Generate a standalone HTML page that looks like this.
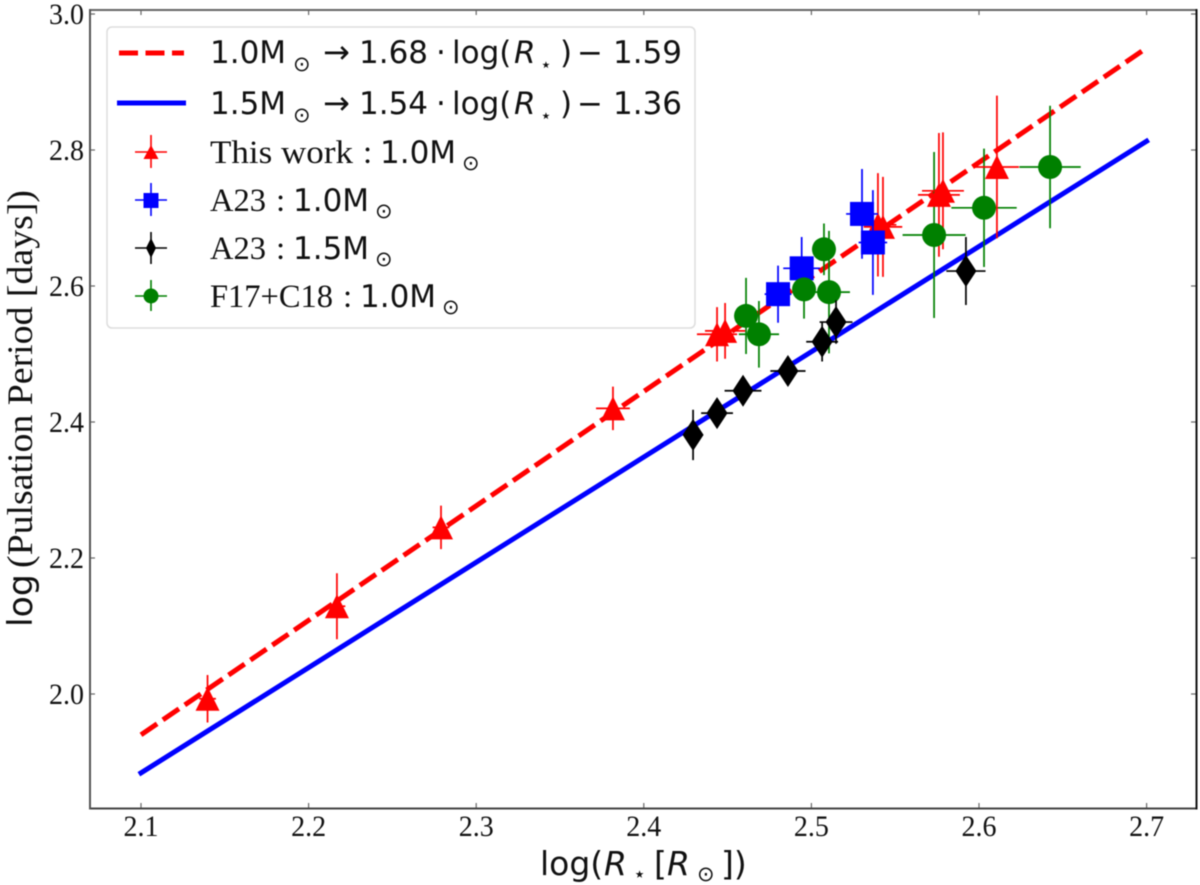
<!DOCTYPE html>
<html lang="en">
<head>
<meta charset="utf-8">
<title>Pulsation period vs stellar radius</title>
<style>
html,body{margin:0;padding:0;background:#fff;}
#chart{display:block;width:1200px;height:885px;filter:blur(0.55px);}
.serif{font-family:"Liberation Serif",serif;fill:#111;}
.sans{font-family:"DejaVu Sans",sans-serif;fill:#111;}
.ital{font-family:"DejaVu Sans",sans-serif;font-style:oblique;fill:#111;}
</style>
</head>
<body>
<svg id="chart" xmlns="http://www.w3.org/2000/svg" width="1200" height="885" viewBox="0 0 1200 885">
  <rect x="0" y="0" width="1200" height="885" fill="#fff"/>
  <g id="ticks"></g>
  <g id="marks"></g>
  <g>
    <line x1="90" y1="10" x2="1197" y2="10" stroke="#666" stroke-width="2"/>
    <line x1="90" y1="808.5" x2="1197" y2="808.5" stroke="#444" stroke-width="2"/>
    <line x1="90" y1="9" x2="90" y2="809.5" stroke="#555" stroke-width="2"/>
    <line x1="1196.5" y1="9" x2="1196.5" y2="809.5" stroke="#111" stroke-width="2"/>
  </g>

  <g>
    <text class="sans" transform="translate(32,627) rotate(-90)" font-size="34" textLength="53" lengthAdjust="spacingAndGlyphs">log</text>
    <text class="serif" transform="translate(32,568) rotate(-90)" font-size="36" textLength="378" lengthAdjust="spacingAndGlyphs">(Pulsation Period [days])</text>
  </g>

  <g>
    <text class="sans" x="540" y="875" font-size="33">log(</text>
    <text class="ital" x="604" y="875" font-size="33">R</text>
    <text class="sans" x="633" y="881" font-size="21">⋆</text>
    <text class="sans" x="654" y="875" font-size="33">[</text>
    <text class="ital" x="667" y="875" font-size="33">R</text>
    <text class="sans" x="697" y="881" font-size="21">⊙</text>
    <text class="sans" x="721" y="875" font-size="33">])</text>
  </g>

  <g>
    <rect x="107" y="27" width="588" height="301" rx="5" ry="5" fill="#fff" fill-opacity="0.9" stroke="#ddd" stroke-width="1.5"/>

    <g>
      <line x1="119" y1="53" x2="184" y2="53" stroke="#f00" stroke-width="5" stroke-dasharray="19 7.5"/>
      <text class="sans" y="63" font-size="31"><tspan x="210">1.0M</tspan><tspan x="293" y="71" font-size="21">⊙</tspan><tspan x="323" y="63" font-size="32">→</tspan><tspan x="359" y="63">1.68</tspan><tspan x="436" y="63">·</tspan><tspan x="452" y="63">log(</tspan><tspan x="514" y="63" font-style="oblique">R</tspan><tspan x="540" y="71" font-size="19">⋆</tspan><tspan x="560" y="63">)</tspan><tspan x="577" y="63">−</tspan><tspan x="613" y="63">1.59</tspan></text>
    </g>

    <g>
      <line x1="117" y1="103" x2="186" y2="103" stroke="#00f" stroke-width="5"/>
      <text class="sans" y="114" font-size="31"><tspan x="210">1.5M</tspan><tspan x="293" y="122" font-size="21">⊙</tspan><tspan x="323" y="114" font-size="32">→</tspan><tspan x="359" y="114">1.54</tspan><tspan x="436" y="114">·</tspan><tspan x="452" y="114">log(</tspan><tspan x="514" y="114" font-style="oblique">R</tspan><tspan x="540" y="122" font-size="19">⋆</tspan><tspan x="560" y="114">)</tspan><tspan x="577" y="114">−</tspan><tspan x="613" y="114">1.36</tspan></text>
    </g>

    <g>
      <path d="M135 152H167M151 135V168" stroke="#f00" stroke-width="1.6" fill="none"/>
      <polygon points="151,145 158.5,159 143.5,159" fill="#f00"/>
      <text class="serif" x="210" y="163" font-size="33" textLength="143" lengthAdjust="spacingAndGlyphs">This work</text>
      <text class="serif" x="363" y="163" font-size="33">:</text>
      <text class="sans" x="380" y="163" font-size="31">1.0M</text>
      <text class="sans" x="462" y="170" font-size="21">⊙</text>
    </g>

    <g>
      <path d="M135 200H167M151 183V216" stroke="#00f" stroke-width="1.6" fill="none"/>
      <rect x="143.5" y="193" width="15" height="15" fill="#00f"/>
      <text class="serif" x="210" y="211" font-size="33" textLength="56" lengthAdjust="spacingAndGlyphs">A23</text>
      <text class="serif" x="276" y="211" font-size="33">:</text>
      <text class="sans" x="293" y="211" font-size="31">1.0M</text>
      <text class="sans" x="375" y="218" font-size="21">⊙</text>
    </g>

    <g>
      <path d="M135 248H167M151 232V264" stroke="#000" stroke-width="1.6" fill="none"/>
      <polygon points="151,238 156,248 151,258 146,248" fill="#000"/>
      <text class="serif" x="210" y="259" font-size="33" textLength="56" lengthAdjust="spacingAndGlyphs">A23</text>
      <text class="serif" x="276" y="259" font-size="33">:</text>
      <text class="sans" x="293" y="259" font-size="31">1.5M</text>
      <text class="sans" x="375" y="266" font-size="21">⊙</text>
    </g>

    <g>
      <path d="M135 296H167M151 280V311" stroke="#008000" stroke-width="1.6" fill="none"/>
      <circle cx="151" cy="296" r="7.5" fill="#008000"/>
      <text class="serif" x="210" y="307" font-size="33" textLength="123" lengthAdjust="spacingAndGlyphs">F17+C18</text>
      <text class="serif" x="343" y="307" font-size="33">:</text>
      <text class="sans" x="360" y="307" font-size="31">1.0M</text>
      <text class="sans" x="442" y="314" font-size="21">⊙</text>
    </g>
  </g>
</svg>

<script>
const xTicks = [2.1, 2.2, 2.3, 2.4, 2.5, 2.6, 2.7];
const xTickLabels = ['2.1', '2.2', '2.3', '2.4', '2.5', '2.6', '2.7'];
const yTicks = [2.0, 2.2, 2.4, 2.6, 2.8, 3.0];
const yTickLabels = ['2.0', '2.2', '2.4', '2.6', '2.8', '3.0'];

const fitX = [2.1, 2.7];
const fitRed = [1.94, 2.95];
const fitBlue = [1.884, 2.813];

const redX = [2.1397, 2.2169, 2.279, 2.3816, 2.4437, 2.4485, 2.5397, 2.5427, 2.5761, 2.5785, 2.6107];
const redY = [1.993, 2.129, 2.245, 2.42, 2.529, 2.534, 2.69, 2.687, 2.734, 2.74, 2.775];
const redXErr = [0.005, 0.005, 0.005, 0.0101, 0.012, 0.012, 0.011, 0.0115, 0.0125, 0.0125, 0.0131];
const redYErr = [0.035, 0.0485, 0.032, 0.032, 0.04, 0.041, 0.076, 0.0735, 0.091, 0.086, 0.105];

const blueX = [2.4801, 2.4942, 2.5302, 2.5367];
const blueY = [2.588, 2.626, 2.706, 2.664];
const blueXErr = [0.008, 0.011, 0.0095, 0.0085];
const blueYErr = [0.042, 0.046, 0.066, 0.077];

const greenX = [2.461, 2.4687, 2.4956, 2.5075, 2.5105, 2.5732, 2.603, 2.6424];
const greenY = [2.556, 2.529, 2.595, 2.654, 2.591, 2.675, 2.715, 2.775];
const greenXErr = [0.006, 0.012, 0.004, 0.004, 0.0125, 0.0188, 0.0195, 0.0183];
const greenYErr = [0.056, 0.049, 0.043, 0.038, 0.09, 0.122, 0.087, 0.09];

const blackX = [2.4294, 2.4437, 2.4592, 2.486, 2.5064, 2.5147, 2.5922];
const blackY = [2.381, 2.413, 2.446, 2.475, 2.518, 2.547, 2.622];
const blackXErr = [0.005, 0.0095, 0.011, 0.0105, 0.0095, 0.0098, 0.0117];
const blackYErr = [0.037, 0.02, 0.02, 0.02, 0.029, 0.032, 0.05];

const NS = 'http://www.w3.org/2000/svg';
const marks = document.getElementById('marks');
const ticksLayer = document.getElementById('ticks');

function sx(v) { return 141 + (v - 2.1) * 1676; }
function sy(v) { return 694 - (v - 2) * 680; }

function shape(tag, attrs, parent) {
  const el = document.createElementNS(NS, tag);
  for (const k in attrs) el.setAttribute(k, attrs[k]);
  parent.appendChild(el);
  return el;
}

function drawBars(xs, ys, xe, ye, color, parent) {
  xs.forEach(function (x, i) {
    const el = shape('path', {
      d: 'M' + sx(x - xe[i]) + ' ' + sy(ys[i]) + 'H' + sx(x + xe[i]) +
         'M' + sx(x) + ' ' + sy(ys[i] + ye[i]) + 'V' + sy(ys[i] - ye[i]),
      stroke: color, 'stroke-width': 1.7, fill: 'none'
    }, parent);
    
    
  });
}

function drawTriangles(xs, ys, parent) {
  xs.forEach(function (x, i) {
    const cx = sx(x), cy = sy(ys[i]);
    const el = shape('polygon', {
      points: cx + ',' + (cy - 12) + ' ' + (cx + 12) + ',' + (cy + 12) + ' ' + (cx - 12) + ',' + (cy + 12),
      fill: '#f00'
    }, parent);
    
    
  });
}

function drawSquares(xs, ys, parent) {
  xs.forEach(function (x, i) {
    const el = shape('rect', {
      x: sx(x) - 12, y: sy(ys[i]) - 12, width: 24, height: 24, fill: '#00f'
    }, parent);
    
    
  });
}

function drawCircles(xs, ys, parent) {
  xs.forEach(function (x, i) {
    const el = shape('circle', {
      cx: sx(x), cy: sy(ys[i]), r: 12, fill: '#008000'
    }, parent);
    
    
  });
}

function drawDiamonds(xs, ys, parent) {
  xs.forEach(function (x, i) {
    const cx = sx(x), cy = sy(ys[i]);
    const el = shape('polygon', {
      points: cx + ',' + (cy - 16) + ' ' + (cx + 10.5) + ',' + cy + ' ' + cx + ',' + (cy + 16) + ' ' + (cx - 10.5) + ',' + cy,
      fill: '#000'
    }, parent);
    
    
  });
}

xTicks.forEach(function (t, i) {
  const top = shape('line', { x1: sx(t), x2: sx(t), y1: 10, y2: 15, stroke: '#666', 'stroke-width': 1.2 }, ticksLayer);
  
  
  const bottom = shape('line', { x1: sx(t), x2: sx(t), y1: 803, y2: 808, stroke: '#666', 'stroke-width': 1.2 }, ticksLayer);
  
  
  const label = shape('text', { x: sx(t) - 17.5, y: 836, 'font-size': 30, textLength: 35, lengthAdjust: 'spacingAndGlyphs', class: 'serif' }, ticksLayer);
  label.textContent = xTickLabels[i];
  
  
});

yTicks.forEach(function (t, i) {
  const left = shape('line', { x1: 90, x2: 95, y1: sy(t), y2: sy(t), stroke: '#666', 'stroke-width': 1.2 }, ticksLayer);
  
  
  const right = shape('line', { x1: 1191, x2: 1196, y1: sy(t), y2: sy(t), stroke: '#666', 'stroke-width': 1.2 }, ticksLayer);
  
  
  const label = shape('text', { x: 49, y: sy(t) + 10, 'font-size': 30, textLength: 35, lengthAdjust: 'spacingAndGlyphs', class: 'serif' }, ticksLayer);
  label.textContent = yTickLabels[i];
  
  
});

const redLine = shape('line', {
  x1: sx(fitX[0]), y1: sy(fitRed[0]), x2: sx(fitX[1]), y2: sy(fitRed[1]),
  stroke: '#f00', 'stroke-width': 5, 'stroke-dasharray': '19.5 7'
}, marks);



const blueLine = shape('line', {
  x1: sx(fitX[0]), y1: sy(fitBlue[0]), x2: sx(fitX[1]), y2: sy(fitBlue[1]),
  stroke: '#00f', 'stroke-width': 5, 'stroke-linecap': 'square'
}, marks);



const greenBarGroup = shape('g', {}, marks);


drawBars(greenX, greenY, greenXErr, greenYErr, '#008000', greenBarGroup);

const redGroup = shape('g', {}, marks);


drawBars(redX, redY, redXErr, redYErr, '#f00', redGroup);
drawTriangles(redX, redY, redGroup);

const blueGroup = shape('g', {}, marks);


drawBars(blueX, blueY, blueXErr, blueYErr, '#00f', blueGroup);
drawSquares(blueX, blueY, blueGroup);

const greenGroup = shape('g', {}, marks);


drawCircles(greenX, greenY, greenGroup);

const blackGroup = shape('g', {}, marks);


drawBars(blackX, blackY, blackXErr, blackYErr, '#000', blackGroup);
drawDiamonds(blackX, blackY, blackGroup);
</script>
</body>
</html>
